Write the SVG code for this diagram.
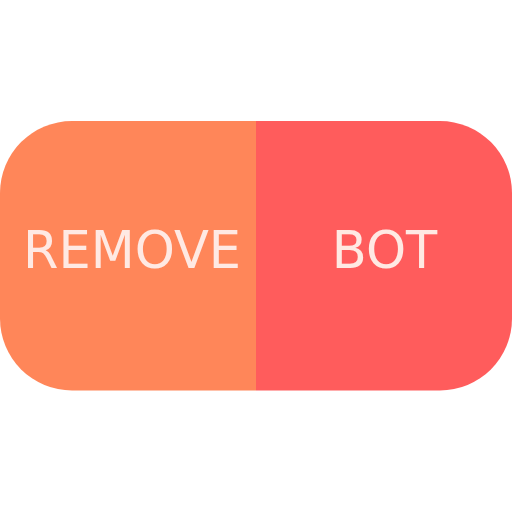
<svg xmlns="http://www.w3.org/2000/svg" width="512" height="512" viewBox="0 0 512 512">
<defs>
<style>
.lbl{font-family:"DejaVu Sans",Verdana,sans-serif;font-size:51px;fill:#FFE9E3;text-anchor:middle}
</style>
<clipPath id="pill"><rect x="0" y="121" width="512" height="269.5" rx="72" ry="72"/></clipPath>
</defs>
<g clip-path="url(#pill)">
<g id="remove">
<rect x="0" y="121" width="256" height="270" fill="#FF8659"/>
<text class="lbl" x="132" y="268">REMOVE</text>
</g>
<g id="bot">
<rect x="256" y="121" width="256" height="270" fill="#FF5C5C"/>
<text class="lbl" x="384.5" y="268">BOT</text>
</g>
</g>
<g id="connectors"/>
</svg>
